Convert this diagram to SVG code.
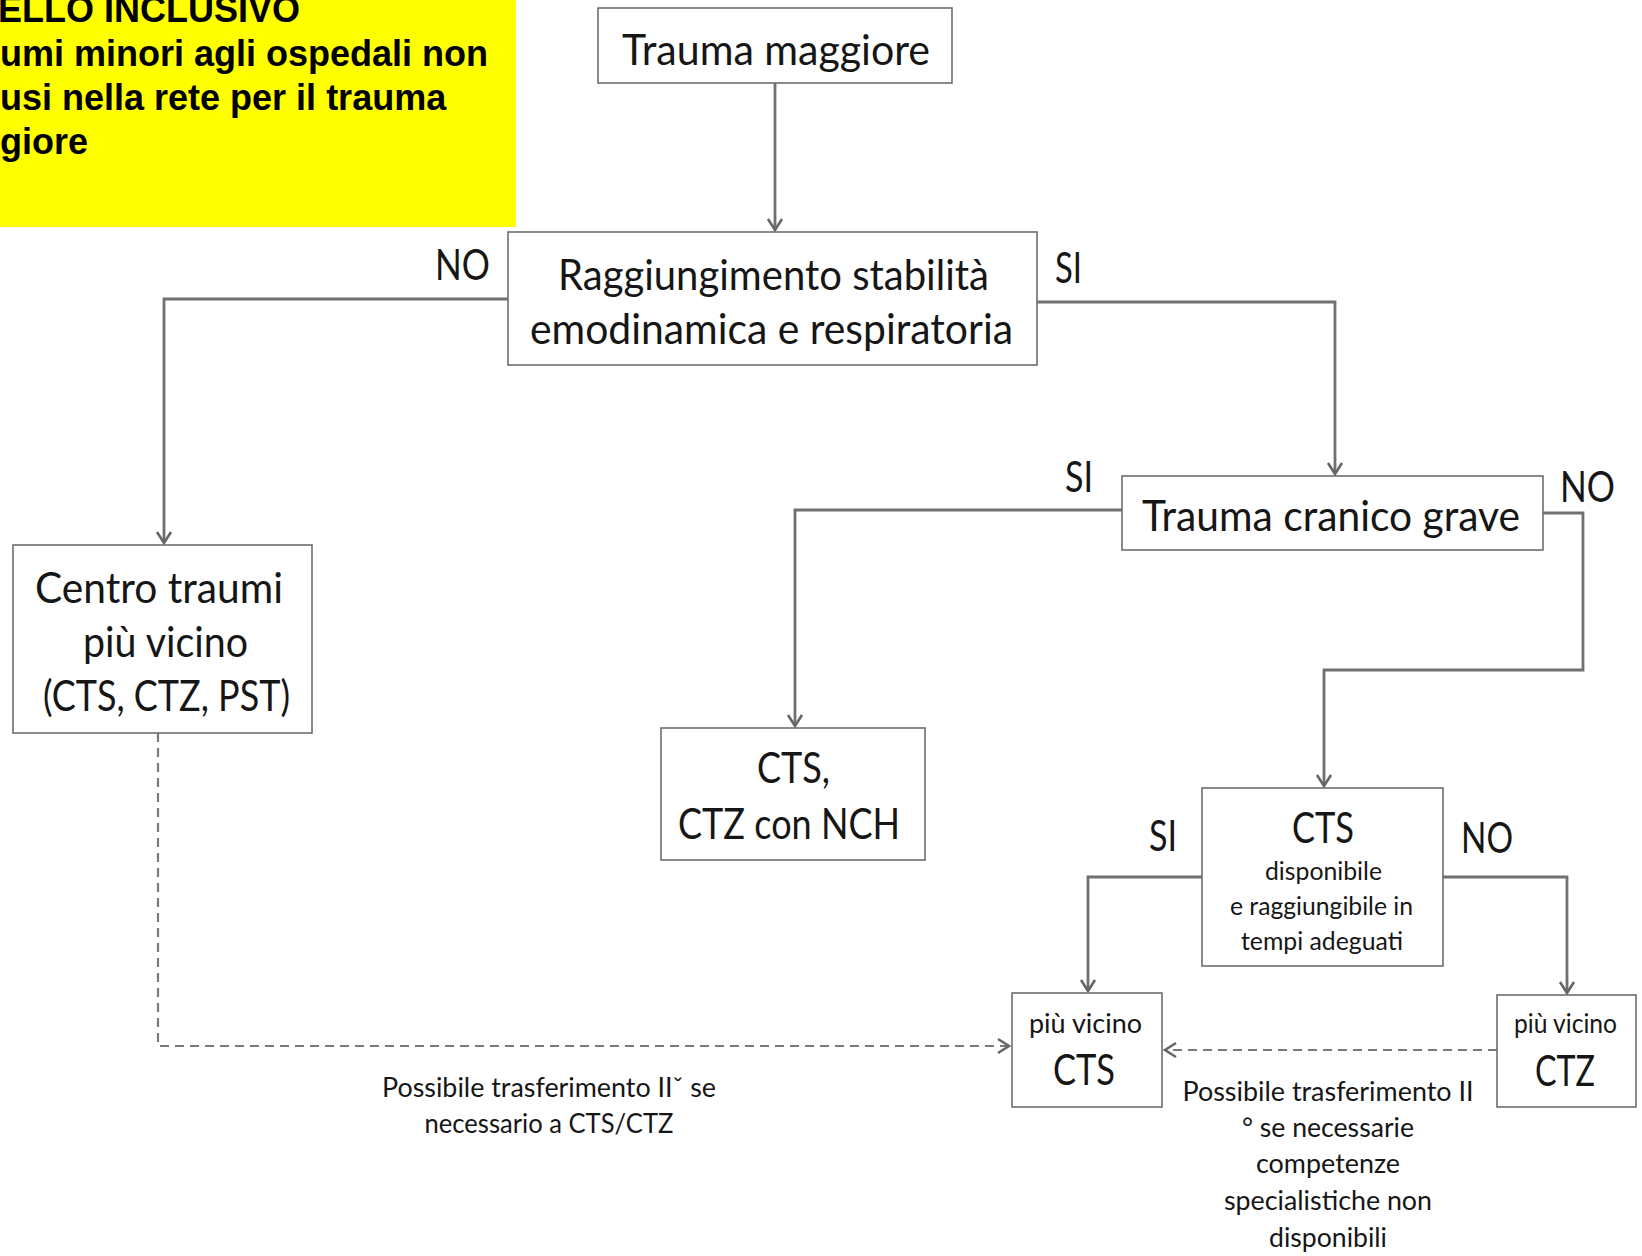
<svg xmlns="http://www.w3.org/2000/svg" width="1642" height="1256" viewBox="0 0 1642 1256">
<defs>
<style>
.box{fill:#fff;stroke:#6e6e6e;stroke-width:1.6}
.con{fill:none;stroke:#707070;stroke-width:2.8}
.dash{fill:none;stroke:#7a7a7a;stroke-width:2.2;stroke-dasharray:9 6}
.t{font-family:Lato,"Noto Sans",sans-serif;fill:#161616}
.b{font-size:43px}
.m{font-size:27px}
.s{font-size:25px}
.y{font-family:"Liberation Sans",Arial,sans-serif;font-weight:bold;font-size:36px;fill:#000}
</style>
<marker id="ah" viewBox="-13 -9 15 18" refX="0" refY="0" markerWidth="15" markerHeight="18" orient="auto" markerUnits="userSpaceOnUse">
<path d="M-11,-7 L0,0 L-11,7" fill="none" stroke="#666" stroke-width="2.6"/>
</marker>
</defs>
<rect width="1642" height="1256" fill="#fff"/>

<g id="note">
<rect x="0" y="0" width="516" height="227" fill="#ffff00"/>
<text class="y" x="-2" y="22">ELLO INCLUSIVO</text>
<text class="y" x="0" y="66">umi minori agli ospedali non</text>
<text class="y" x="0" y="110">usi nella rete per il trauma</text>
<text class="y" x="0" y="154">giore</text>
</g>

<g id="connectors">
<path class="con" d="M775,83 V230" marker-end="url(#ah)"/>
<path class="con" d="M508,299 H164 V543" marker-end="url(#ah)"/>
<path class="con" d="M1037,302 H1335 V474" marker-end="url(#ah)"/>
<path class="con" d="M1122,510 H795 V726" marker-end="url(#ah)"/>
<path class="con" d="M1543,513 H1583 V670 H1324 V786" marker-end="url(#ah)"/>
<path class="con" d="M1202,877 H1088 V991" marker-end="url(#ah)"/>
<path class="con" d="M1443,877 H1567 V993" marker-end="url(#ah)"/>
<path class="dash" d="M158,733 V1046 H1009" marker-end="url(#ah)"/>
<path class="dash" d="M1497,1050 H1165" marker-end="url(#ah)"/>
</g>

<g id="n-trauma-maggiore">
<rect class="box" x="598" y="8" width="354" height="75"/>
<text class="t b" x="622" y="65" textLength="308" lengthAdjust="spacingAndGlyphs">Trauma maggiore</text>
</g>

<g id="n-raggiungimento">
<rect class="box" x="508" y="232" width="529" height="133"/>
<text class="t b" x="558" y="290" textLength="431" lengthAdjust="spacingAndGlyphs">Raggiungimento stabilità</text>
<text class="t b" x="530" y="344" textLength="483" lengthAdjust="spacingAndGlyphs">emodinamica e respiratoria</text>
</g>

<g id="labels">
<text class="t b" x="435" y="280" textLength="55" lengthAdjust="spacingAndGlyphs">NO</text>
<text class="t b" x="1055" y="283" textLength="27" lengthAdjust="spacingAndGlyphs">SI</text>
<text class="t b" x="1065" y="492" textLength="28" lengthAdjust="spacingAndGlyphs">SI</text>
<text class="t b" x="1560" y="502" textLength="55" lengthAdjust="spacingAndGlyphs">NO</text>
<text class="t b" x="1149" y="851" textLength="28" lengthAdjust="spacingAndGlyphs">SI</text>
<text class="t b" x="1461" y="853" textLength="52" lengthAdjust="spacingAndGlyphs">NO</text>
<text class="t m" x="549" y="1097" text-anchor="middle" textLength="334" lengthAdjust="spacingAndGlyphs">Possibile trasferimento IIˇ se</text>
<text class="t m" x="549" y="1133" text-anchor="middle" textLength="249" lengthAdjust="spacingAndGlyphs">necessario a CTS/CTZ</text>
<text class="t m" x="1328" y="1101" text-anchor="middle" textLength="291" lengthAdjust="spacingAndGlyphs">Possibile trasferimento II</text>
<text class="t m" x="1328" y="1137" text-anchor="middle" textLength="172" lengthAdjust="spacingAndGlyphs">° se necessarie</text>
<text class="t m" x="1328" y="1173" text-anchor="middle" textLength="144" lengthAdjust="spacingAndGlyphs">competenze</text>
<text class="t m" x="1328" y="1210" text-anchor="middle" textLength="208" lengthAdjust="spacingAndGlyphs">specialistiche non</text>
<text class="t m" x="1328" y="1247" text-anchor="middle" textLength="118" lengthAdjust="spacingAndGlyphs">disponibili</text>
</g>

<g id="n-centro-traumi">
<rect class="box" x="13" y="545" width="299" height="188"/>
<text class="t b" x="35" y="603" textLength="248" lengthAdjust="spacingAndGlyphs">Centro traumi</text>
<text class="t b" x="83" y="657" textLength="165" lengthAdjust="spacingAndGlyphs">più vicino</text>
<text class="t b" x="43" y="711" textLength="247" lengthAdjust="spacingAndGlyphs">(CTS, CTZ, PST)</text>
</g>

<g id="n-trauma-cranico">
<rect class="box" x="1122" y="476" width="421" height="74"/>
<text class="t b" x="1142" y="531" textLength="378" lengthAdjust="spacingAndGlyphs">Trauma cranico grave</text>
</g>

<g id="n-cts-ctz-nch">
<rect class="box" x="661" y="728" width="264" height="132"/>
<text class="t b" x="757" y="783" textLength="73" lengthAdjust="spacingAndGlyphs">CTS,</text>
<text class="t b" x="678" y="839" textLength="222" lengthAdjust="spacingAndGlyphs">CTZ con NCH</text>
</g>

<g id="n-cts-disponibile">
<rect class="box" x="1202" y="788" width="241" height="178"/>
<text class="t b" x="1292" y="843" textLength="62" lengthAdjust="spacingAndGlyphs">CTS</text>
<text class="t s" x="1265" y="880" textLength="117" lengthAdjust="spacingAndGlyphs">disponibile</text>
<text class="t s" x="1230" y="915" textLength="183" lengthAdjust="spacingAndGlyphs">e raggiungibile in</text>
<text class="t s" x="1241" y="950" textLength="162" lengthAdjust="spacingAndGlyphs">tempi adeguati</text>
</g>

<g id="n-vicino-cts">
<rect class="box" x="1012" y="993" width="150" height="114"/>
<text class="t m" x="1029" y="1033" textLength="113" lengthAdjust="spacingAndGlyphs">più vicino</text>
<text class="t b" x="1053" y="1085" textLength="62" lengthAdjust="spacingAndGlyphs">CTS</text>
</g>

<g id="n-vicino-ctz">
<rect class="box" x="1497" y="995" width="139" height="112"/>
<text class="t m" x="1514" y="1033" textLength="103" lengthAdjust="spacingAndGlyphs">più vicino</text>
<text class="t b" x="1535" y="1086" textLength="60" lengthAdjust="spacingAndGlyphs">CTZ</text>
</g>
</svg>
